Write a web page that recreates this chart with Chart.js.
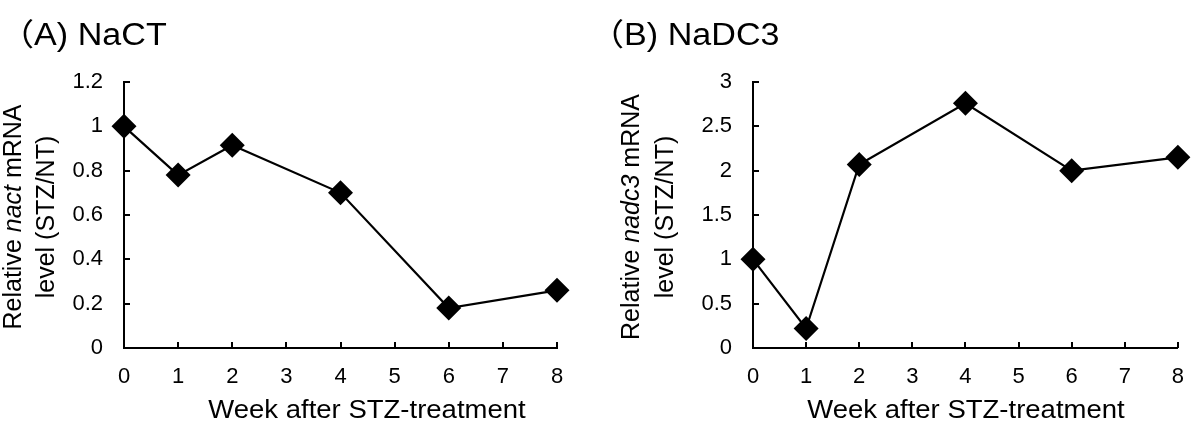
<!DOCTYPE html>
<html>
<head>
<meta charset="utf-8">
<script src="https://cdn.jsdelivr.net/npm/chart.js@4"></script>
<style>
body { margin: 0; background: #fff; }
#wrap { position: relative; width: 1200px; height: 429px; }
#boxA { position: absolute; left: 0; top: 0; width: 590px; height: 429px; }
#boxB { position: absolute; left: 590px; top: 0; width: 610px; height: 429px; }
</style>
</head>
<body>
<div id="wrap">
  <div id="boxA"><canvas id="chartA" width="590" height="429"></canvas></div>
  <div id="boxB"><canvas id="chartB" width="610" height="429"></canvas></div>
</div>
<script>
const weeks = [0, 1, 2, 4, 6, 8];
const nactLevel = [1.0, 0.78, 0.915, 0.70, 0.18, 0.26];
const nadc3Level = [1.0, 0.22, 2.07, 2.76, 2.0, 2.15];
const weekTicks = [0, 1, 2, 3, 4, 5, 6, 7, 8];
const nactTicks = [0, 0.2, 0.4, 0.6, 0.8, 1, 1.2];
const nadc3Ticks = [0, 0.5, 1, 1.5, 2, 2.5, 3];
const xTitle = 'Week after STZ-treatment';

const FONT = "'Liberation Sans', Arial, 'Noto Sans CJK JP', sans-serif";
Chart.defaults.font.family = FONT;
Chart.defaults.color = '#000';

// draws one line of text made of [text, italic] pieces, centred on x
function drawPieces(ctx, pieces, size) {
    let total = 0;
    pieces.forEach(p => {
        ctx.font = (p[1] ? 'italic ' : '') + size + 'px ' + FONT;
        total += ctx.measureText(p[0]).width;
    });
    let cx = -total / 2;
    pieces.forEach(p => {
        ctx.font = (p[1] ? 'italic ' : '') + size + 'px ' + FONT;
        ctx.fillText(p[0], cx, 0);
        cx += ctx.measureText(p[0]).width;
    });
}

// panel title, axis titles and the inward tick marks
const decor = {
    id: 'decor',
    beforeDatasetsDraw(chart) {
        const ctx = chart.ctx;
        const xs = chart.scales.x, ys = chart.scales.y;
        ctx.save();
        ctx.strokeStyle = '#000';
        ctx.lineWidth = 2;
        ctx.beginPath();
        ys.ticks.forEach(t => {
            const py = Math.round(ys.getPixelForValue(t.value));
            ctx.moveTo(xs.left, py);
            ctx.lineTo(xs.left + 6, py);
        });
        xs.ticks.forEach(t => {
            const px = Math.round(xs.getPixelForValue(t.value));
            ctx.moveTo(px, ys.bottom);
            ctx.lineTo(px, ys.bottom - 6);
        });
        ctx.stroke();
        ctx.restore();
    },
    afterDraw(chart, args, opts) {
        const ctx = chart.ctx;
        ctx.save();
        ctx.fillStyle = '#000';

        // panel title
        ctx.save();
        ctx.translate(0, 45);
        ctx.scale(1.1, 1);
        ctx.font = '31px ' + FONT;
        ctx.textAlign = 'left';
        ctx.textBaseline = 'alphabetic';
        ctx.fillText(opts.panel, 0, 0);
        ctx.restore();

        // x title
        ctx.save();
        ctx.translate(opts.xTitleX, 411);
        ctx.scale(1.1, 1);
        ctx.font = '25px ' + FONT;
        ctx.textAlign = 'center';
        ctx.textBaseline = 'middle';
        ctx.fillText(xTitle, 0, 0);
        ctx.restore();

        // y title, two lines rotated
        ctx.textAlign = 'left';
        ctx.textBaseline = 'middle';
        opts.yLines.forEach((pieces, i) => {
            ctx.save();
            ctx.translate(opts.yTitleX[i], 217);
            ctx.rotate(-Math.PI / 2);
            drawPieces(ctx, pieces, 25);
            ctx.restore();
        });
        ctx.restore();
    }
};

function makeChart(id, values, yTicks, yMax, axisLeft, rightPad, decorOpts) {
    const ctx = document.getElementById(id).getContext('2d');
    return new Chart(ctx, {
        type: 'line',
        data: {
            datasets: [{
                data: weeks.map((w, i) => ({ x: w, y: values[i] })),
                borderColor: '#000',
                borderWidth: 2.2,
                backgroundColor: '#000',
                pointStyle: 'rectRot',
                pointRadius: 12.5,
                pointBorderWidth: 0,
                pointBackgroundColor: '#000',
                clip: false,
                tension: 0
            }]
        },
        options: {
            responsive: false,
            animation: false,
            layout: { padding: { top: 82, right: rightPad, bottom: 0, left: 0 } },
            scales: {
                x: {
                    type: 'linear',
                    min: 0,
                    max: 8,
                    afterBuildTicks: s => { s.ticks = weekTicks.map(v => ({ value: v })); },
                    afterFit: s => { s.height = 81; },
                    grid: { drawOnChartArea: false, drawTicks: false },
                    border: { display: true, color: '#000', width: 2 },
                    ticks: { padding: 16, font: { size: 22 }, color: '#000', callback: v => String(v) }
                },
                y: {
                    min: 0,
                    max: yMax,
                    afterBuildTicks: s => { s.ticks = yTicks.map(v => ({ value: v })); },
                    afterFit: s => { s.width = axisLeft; },
                    grid: { drawOnChartArea: false, drawTicks: false },
                    border: { display: true, color: '#000', width: 2 },
                    ticks: { padding: 21, font: { size: 22 }, color: '#000', callback: v => String(v) }
                }
            },
            plugins: {
                legend: { display: false },
                tooltip: { enabled: false },
                decor: decorOpts
            }
        },
        plugins: [decor]
    });
}

makeChart('chartA', nactLevel, nactTicks, 1.2, 124, 33, {
    panel: '（A) NaCT',
    xTitleX: 367,
    yTitleX: [14, 47],
    yLines: [
        [['Relative ', false], ['nact', true], [' mRNA', false]],
        [['level (STZ/NT)', false]]
    ]
});

makeChart('chartB', nadc3Level, nadc3Ticks, 3, 163, 18, {
    panel: '（B) NaDC3',
    xTitleX: 376,
    yTitleX: [42, 76],
    yLines: [
        [['Relative ', false], ['nadc3', true], [' mRNA', false]],
        [['level (STZ/NT)', false]]
    ]
});
</script>
</body>
</html>
